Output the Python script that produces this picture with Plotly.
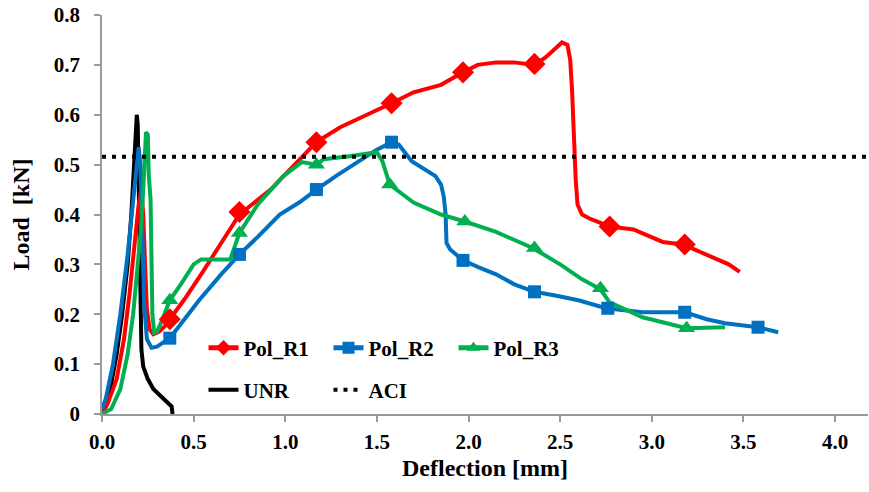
import plotly.graph_objects as go

# ---------------- data ----------------
# Pol_R1 (red)
r1_x = [0.0, 0.03, 0.08, 0.12, 0.15, 0.18, 0.20, 0.215, 0.225, 0.235, 0.245, 0.26, 0.28, 0.31, 0.34, 0.37,
        0.45, 0.55, 0.62, 0.75, 0.92, 1.0, 1.17, 1.3, 1.45, 1.58, 1.7, 1.85, 1.97, 2.05, 2.15, 2.25, 2.36,
        2.42, 2.48, 2.51, 2.54, 2.555, 2.565, 2.575, 2.585, 2.595, 2.62, 2.66, 2.77, 2.9, 3.06, 3.17, 3.33,
        3.42, 3.48]
r1_y = [0.0, 0.02, 0.07, 0.15, 0.24, 0.34, 0.42, 0.45, 0.40, 0.30, 0.21, 0.17, 0.16, 0.165, 0.175, 0.19,
        0.23, 0.285, 0.325, 0.40, 0.45, 0.48, 0.545, 0.575, 0.60, 0.623, 0.645, 0.66, 0.685, 0.70, 0.705,
        0.705, 0.70, 0.715, 0.735, 0.745, 0.74, 0.71, 0.65, 0.55, 0.47, 0.42, 0.40, 0.392, 0.376, 0.37,
        0.345, 0.34, 0.313, 0.30, 0.285]
r1_mx = [0.37, 0.75, 1.17, 1.58, 1.97, 2.36, 2.77, 3.18]
r1_my = [0.19, 0.405, 0.545, 0.623, 0.685, 0.702, 0.376, 0.34]

# Pol_R2 (blue)
r2_x = [0.0, 0.02, 0.06, 0.10, 0.14, 0.17, 0.19, 0.20, 0.21, 0.22, 0.23, 0.245, 0.27, 0.30, 0.37, 0.45,
        0.53, 0.65, 0.75, 0.85, 0.97, 1.08, 1.17, 1.28, 1.39, 1.50, 1.58, 1.62, 1.69, 1.76, 1.82, 1.85,
        1.865, 1.875, 1.88, 1.90, 1.95, 1.97, 2.05, 2.15, 2.25, 2.36, 2.48, 2.60, 2.75, 2.95, 3.18, 3.30,
        3.40, 3.58, 3.69]
r2_y = [0.01, 0.03, 0.10, 0.20, 0.32, 0.43, 0.50, 0.535, 0.50, 0.38, 0.22, 0.15, 0.133, 0.135, 0.152, 0.19,
        0.228, 0.28, 0.32, 0.355, 0.40, 0.425, 0.45, 0.478, 0.505, 0.53, 0.545, 0.54, 0.507, 0.49, 0.477,
        0.46, 0.436, 0.40, 0.343, 0.33, 0.315, 0.308, 0.295, 0.28, 0.26, 0.245, 0.237, 0.228, 0.212, 0.204,
        0.204, 0.19, 0.182, 0.174, 0.164]
r2_mx = [0.37, 0.75, 1.17, 1.58, 1.97, 2.36, 2.76, 3.18, 3.58]
r2_my = [0.152, 0.32, 0.45, 0.545, 0.308, 0.245, 0.212, 0.204, 0.174]

# Pol_R3 (green)
r3_x = [0.0, 0.05, 0.10, 0.14, 0.17, 0.19, 0.21, 0.225, 0.235, 0.24, 0.25, 0.255, 0.265, 0.27, 0.275,
        0.285, 0.30, 0.33, 0.37, 0.43, 0.50, 0.54, 0.70, 0.75, 0.85, 0.99, 1.09, 1.17, 1.21, 1.35, 1.50,
        1.53, 1.57, 1.70, 1.85, 1.98, 2.15, 2.35, 2.50, 2.62, 2.72, 2.77, 2.95, 3.19, 3.40]
r3_y = [0.0, 0.01, 0.05, 0.12, 0.20, 0.28, 0.36, 0.45, 0.53, 0.565, 0.56, 0.48, 0.43, 0.30, 0.20,
        0.163, 0.165, 0.19, 0.228, 0.26, 0.30, 0.31, 0.31, 0.363, 0.42, 0.477, 0.505, 0.50, 0.511, 0.517,
        0.525, 0.507, 0.46, 0.424, 0.40, 0.386, 0.365, 0.333, 0.30, 0.27, 0.25, 0.224, 0.194, 0.172, 0.174]
r3_mx = [0.37, 0.75, 1.17, 1.57, 1.98, 2.36, 2.72, 3.19]
r3_my = [0.228, 0.363, 0.50, 0.46, 0.386, 0.333, 0.252, 0.172]

# UNR (black)
unr_x = [0.0, 0.02, 0.05, 0.08, 0.11, 0.14, 0.16, 0.175, 0.185, 0.19, 0.195, 0.20, 0.205, 0.21, 0.215,
         0.225, 0.25, 0.28, 0.31, 0.34, 0.37, 0.38, 0.385]
unr_y = [0.0, 0.02, 0.06, 0.12, 0.20, 0.30, 0.40, 0.50, 0.57, 0.60, 0.58, 0.45, 0.30, 0.20, 0.13,
         0.095, 0.07, 0.05, 0.04, 0.03, 0.02, 0.015, 0.0]

# ACI (dotted reference level)
aci_x = [0.0, 4.18]
aci_y = [0.516, 0.516]

x_ticks = [0.0, 0.5, 1.0, 1.5, 2.0, 2.5, 3.0, 3.5, 4.0]
y_ticks = [0.0, 0.1, 0.2, 0.3, 0.4, 0.5, 0.6, 0.7, 0.8]
y_ticktext = ["0", "0.1", "0.2", "0.3", "0.4", "0.5", "0.6", "0.7", "0.8"]

# ---------------- figure ----------------
RED, BLUE, GREEN = "#FF0000", "#0070C0", "#00B050"
FONT = "Liberation Serif"
LW = 4

fig = go.Figure()

series = [
    ("Pol_R1", r1_x, r1_y, r1_mx, r1_my, RED, "diamond", 17),
    ("Pol_R2", r2_x, r2_y, r2_mx, r2_my, BLUE, "square", 13),
    ("Pol_R3", r3_x, r3_y, r3_mx, r3_my, GREEN, "triangle-up", 15),
]

fig.add_trace(go.Scatter(x=unr_x, y=unr_y, mode="lines", line=dict(color="black", width=LW),
                         showlegend=False, hoverinfo="skip"))

for name, x, y, mx, my, col, sym, ms in series:
    fig.add_trace(go.Scatter(x=x, y=y, mode="lines", line=dict(color=col, width=LW),
                             showlegend=False, name=name))
for name, x, y, mx, my, col, sym, ms in series:
    fig.add_trace(go.Scatter(x=mx, y=my, mode="markers",
                             marker=dict(color=col, symbol=sym, size=ms, line=dict(width=0)),
                             showlegend=False, name=name))

fig.add_trace(go.Scatter(x=aci_x, y=aci_y, mode="lines",
                         line=dict(color="black", width=4, dash="4px,6px"),
                         showlegend=False, name="ACI"))

# legend entries
for name, x, y, mx, my, col, sym, ms in series:
    fig.add_trace(go.Scatter(x=[None], y=[None], mode="lines+markers", name=name,
                             line=dict(color=col, width=LW),
                             marker=dict(color=col, symbol=sym, size=ms),
                             legend="legend"))
fig.add_trace(go.Scatter(x=[None], y=[None], mode="lines", name="UNR",
                         line=dict(color="black", width=LW), legend="legend2"))
fig.add_trace(go.Scatter(x=[None], y=[None], mode="lines", name="ACI",
                         line=dict(color="black", width=4, dash="4px,6px"), legend="legend2"))

axis_common = dict(showline=True, linecolor="#9A9A9A", linewidth=1.5, ticks="outside",
                   tickcolor="#9A9A9A", ticklen=6, tickwidth=1.5, showgrid=False, zeroline=False,
                   automargin=False, ticklabeloverflow="allow",
                   tickfont=dict(family=FONT, size=21, color="black", weight="bold"))

leg_font = dict(family=FONT, size=21, color="black", weight="bold")
title_font = dict(family=FONT, size=24, color="black", weight="bold")

fig.update_layout(
    width=869, height=492,
    margin=dict(l=102, r=1, t=15, b=78),
    paper_bgcolor="white", plot_bgcolor="white",
    xaxis=dict(range=[0, 4.18], tickvals=x_ticks, tickformat=".1f", ticklabelstandoff=2,
               title=dict(text="Deflection [mm]", font=title_font, standoff=6),
               **axis_common),
    yaxis=dict(range=[0, 0.8], tickvals=y_ticks, ticktext=y_ticktext, ticklabelstandoff=10,
               title=dict(text="Load\u00a0\u00a0[kN]", font=title_font, standoff=17),
               **axis_common),
    legend=dict(orientation="h", x=0.1325, y=0.165, xanchor="left", yanchor="middle",
                entrywidth=80, entrywidthmode="pixels", font=leg_font, bgcolor="rgba(0,0,0,0)",
                itemsizing="constant"),
    legend2=dict(orientation="h", x=0.1325, y=0.06, xanchor="left", yanchor="middle",
                 entrywidth=80, entrywidthmode="pixels", font=leg_font, bgcolor="rgba(0,0,0,0)"),
)

# remove the browser's default page margin so the figure fills the window exactly
fig.write_html("out.html",
               config={"displayModeBar": False},
               post_script="document.body.style.margin='0';document.body.style.overflow='hidden';")
